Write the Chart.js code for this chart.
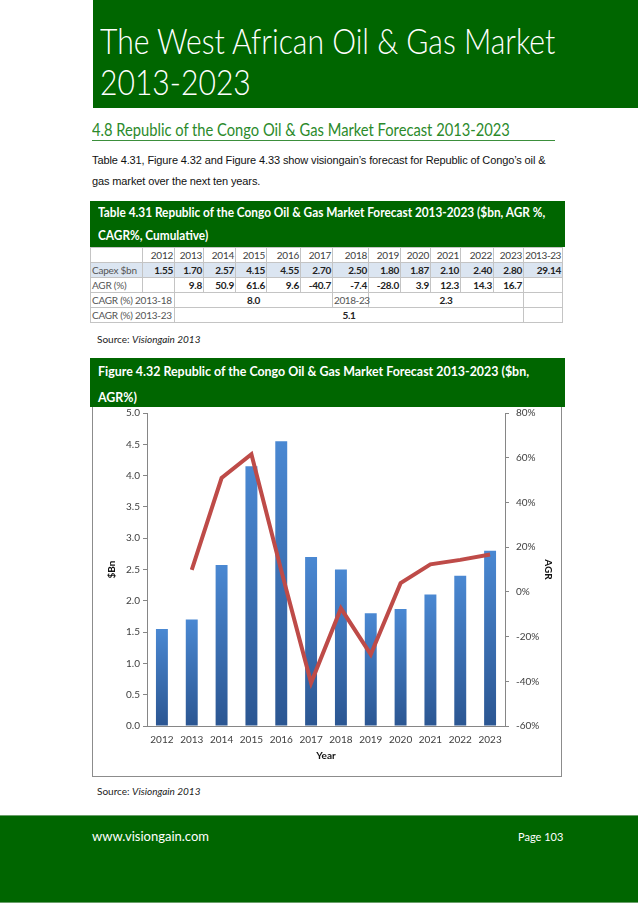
<!DOCTYPE html>
<html>
<head>
<meta charset="UTF-8">
<title>Republic of the Congo Oil &amp; Gas Market Forecast 2013-2023</title>
<script src="https://cdn.jsdelivr.net/npm/chart.js"></script>
<style>
    body {
        margin: 0;
        width: 638px;
        height: 903px;
        position: relative;
        overflow: hidden;
        background: #fff;
        font-family: Lato, "Open Sans", sans-serif;
    }
    .sx { display: inline-block; transform-origin: 0 50%; white-space: nowrap; }
    #header {
        position: absolute; left: 93px; top: 0; width: 545px; height: 108px;
        background: #006600;
    }
    #header div {
        position: absolute; left: 7px; color: #fff; font-size: 35px; font-weight: 300;
        line-height: 40px; white-space: nowrap;
    }
    #header .sx { transform: scaleX(0.86); }
    #section {
        position: absolute; left: 92px; top: 119px; width: 463px; height: 21px;
        color: #2b8a2b; font-size: 17px; line-height: 22px;
        border-bottom: 1px solid #3b8f3b; white-space: nowrap;
    }
    #section .sx { transform: scaleX(0.865); }
    #intro {
        position: absolute; left: 92px; top: 150px; width: 480px;
        font-family: "Liberation Sans", Arial, sans-serif; font-size: 11px;
        line-height: 21px; color: #111; letter-spacing: -0.12px;
    }
    .greenbox {
        position: absolute; left: 90px; width: 475px; background: #006600;
        color: #fff; font-weight: bold; font-size: 13px;
    }
    .greenbox div { padding-left: 8px; white-space: nowrap; }
    #tbl {
        position: absolute; left: 90px; top: 247px; width: 472px;
        border-collapse: collapse; table-layout: fixed;
        font-size: 10px; color: #404040; letter-spacing: -0.25px;
    }
    #tbl tr { height: 15px; }
    #tbl td {
        border: 1px solid #c4c4c4; padding: 0 1px; line-height: 13px;
        text-align: right; white-space: nowrap; overflow: hidden;
    }
    #tbl td.lab { text-align: left; color: #555; }
    #tbl td.vis { overflow: visible; letter-spacing: -0.4px; }
    #tbl td.b { font-weight: bold; color: #222; }
    #tbl td.c { text-align: center; }
    #tbl tr.capex td { background: #dbe5f1; }
    .source {
        position: absolute; left: 97px; font-size: 10px; color: #222;
    }
    .source i { font-style: italic; }
    #frame {
        position: absolute; left: 92px; top: 407px; width: 468px; height: 369px;
        border: 1px solid #8c8c8c; border-top: none;
    }
    #chartBox { position: absolute; left: 93px; top: 408px; width: 467px; height: 368px; }
    #footer {
        position: absolute; left: 0; top: 815px; width: 638px; height: 86px;
        background: #006600; border-top: 1px solid #6a9f6a; border-bottom: 1px solid #6a9f6a;
        color: #fff;
    }
    #footer .url { position: absolute; left: 92px; top: 12px; font-size: 13px; }
    #footer .page { position: absolute; left: 518px; top: 14px; font-size: 11px; }
</style>
</head>
<body>
    <div id="header">
        <div style="top: 20px;"><span class="sx">The West African Oil &amp; Gas Market</span></div>
        <div style="top: 61px;"><span class="sx">2013-2023</span></div>
    </div>
    <div id="section"><span class="sx">4.8 Republic of the Congo Oil &amp; Gas Market Forecast 2013-2023</span></div>
    <div id="intro">Table 4.31, Figure 4.32 and Figure 4.33 show visiongain’s forecast for Republic of Congo’s oil &amp;<br>gas market over the next ten years.</div>

    <div class="greenbox" style="top: 201px; height: 46px; line-height: 23px;">
        <div><span class="sx" style="transform: scaleX(0.91)">Table 4.31 Republic of the Congo Oil &amp; Gas Market Forecast 2013-2023 ($bn, AGR %,</span></div>
        <div><span class="sx" style="transform: scaleX(0.91)">CAGR%, Cumulative)</span></div>
    </div>
    <table id="tbl">
        <colgroup>
            <col style="width:52px"><col style="width:32px"><col style="width:29px"><col style="width:32px">
            <col style="width:31px"><col style="width:34px"><col style="width:32px"><col style="width:36px">
            <col style="width:32px"><col style="width:30px"><col style="width:30px"><col style="width:33px">
            <col style="width:30px"><col style="width:39px">
        </colgroup>
        <tbody id="tbody"></tbody>
    </table>
    <div class="source" style="top: 333px;">Source: <i>Visiongain 2013</i></div>

    <div class="greenbox" style="top: 358px; height: 49px; line-height: 26px;">
        <div><span class="sx" style="transform: scaleX(0.955)">Figure 4.32 Republic of the Congo Oil &amp; Gas Market Forecast 2013-2023 ($bn,</span></div>
        <div><span class="sx" style="transform: scaleX(0.955)">AGR%)</span></div>
    </div>
    <div id="frame"></div>
    <div id="chartBox"><canvas id="congoChart" width="467" height="368"></canvas></div>
    <div class="source" style="top: 785px;">Source: <i>Visiongain 2013</i></div>

    <div id="footer">
        <div class="url">www.visiongain.com</div>
        <div class="page">Page 103</div>
    </div>

<script>
    // data
    const years = ['2012', '2013', '2014', '2015', '2016', '2017', '2018', '2019', '2020', '2021', '2022', '2023'];
    const capex = [1.55, 1.70, 2.57, 4.15, 4.55, 2.70, 2.50, 1.80, 1.87, 2.10, 2.40, 2.80];
    const agr = [null, 9.8, 50.9, 61.6, 9.6, -40.7, -7.4, -28.0, 3.9, 12.3, 14.3, 16.7];
    const cumulativeLabel = '2013-23';
    const cumulative = 29.14;
    const cagr1318 = 8.0;
    const cagr1823 = 2.3;
    const cagr1323 = 5.1;

    // table
    const tbody = document.getElementById('tbody');
    function row(cls, cells) {
        const tr = document.createElement('tr');
        if (cls) tr.className = cls;
        cells.forEach(c => {
            const td = document.createElement('td');
            td.textContent = c.t;
            if (c.cls) td.className = c.cls;
            if (c.span) td.colSpan = c.span;
            tr.appendChild(td);
        });
        tbody.appendChild(tr);
    }
    row('', [{t: ''}].concat(years.map(y => ({t: y}))).concat([{t: cumulativeLabel, cls: 'vis'}]));
    row('capex', [{t: 'Capex $bn', cls: 'lab'}].concat(capex.map(v => ({t: v.toFixed(2), cls: 'b'}))).concat([{t: cumulative.toFixed(2), cls: 'b'}]));
    row('', [{t: 'AGR (%)', cls: 'lab'}].concat(agr.map(v => ({t: v == null ? '' : v.toFixed(1), cls: 'b'}))).concat([{t: ''}]));
    row('', [
        {t: 'CAGR (%) 2013-18', cls: 'lab', span: 2},
        {t: cagr1318.toFixed(1), cls: 'b c', span: 5},
        {t: '2018-23', cls: 'lab vis'},
        {t: cagr1823.toFixed(1), cls: 'b c', span: 5},
        {t: ''}
    ]);
    row('', [
        {t: 'CAGR (%) 2013-23', cls: 'lab', span: 2},
        {t: cagr1323.toFixed(1), cls: 'b c', span: 11},
        {t: ''}
    ]);

    // chart
    const axisGrey = '#868686';
    const tickFont = {family: 'Lato', size: 10};
    const titleFont = {family: 'Lato', size: 10, weight: 'bold'};

    function barFill(c) {
        const chart = c.chart;
        const y = chart.scales.y;
        if (!y || c.raw == null) return '#3a70b8';
        const top = y.getPixelForValue(c.raw);
        const bot = y.getPixelForValue(0);
        if (!isFinite(top) || !isFinite(bot)) return '#3a70b8';
        const g = chart.ctx.createLinearGradient(0, top, 0, bot);
        g.addColorStop(0, '#4a88d2');
        g.addColorStop(1, '#2b5692');
        return g;
    }

    new Chart(document.getElementById('congoChart'), {
        data: {
            labels: years,
            datasets: [{
                type: 'line',
                label: 'AGR',
                data: agr,
                yAxisID: 'y1',
                borderColor: '#be4b48',
                borderWidth: 4,
                pointRadius: 0,
                tension: 0,
                order: 0
            }, {
                type: 'bar',
                label: 'Capex $bn',
                data: capex,
                yAxisID: 'y',
                backgroundColor: barFill,
                barPercentage: 0.4,
                categoryPercentage: 1.0,
                order: 1
            }]
        },
        options: {
            responsive: false,
            animation: false,
            layout: {padding: {top: 5, left: 0, right: 0, bottom: 0}},
            plugins: {legend: {display: false}, tooltip: {enabled: false}},
            scales: {
                x: {
                    grid: {display: false, drawTicks: false},
                    border: {display: true, color: axisGrey},
                    ticks: {font: tickFont, color: '#404040', padding: 8, maxRotation: 0, autoSkip: false},
                    title: {display: true, text: 'Year', font: titleFont, color: '#111', padding: {top: 0, bottom: 14}},
                    afterFit: s => { s.height = 50; s.paddingLeft = 0; s.paddingRight = 0; }
                },
                y: {
                    position: 'left',
                    min: 0, max: 5,
                    ticks: {stepSize: 0.5, font: tickFont, color: '#404040', padding: 3, callback: v => v.toFixed(1)},
                    grid: {drawOnChartArea: false, drawTicks: true, tickLength: 4, color: axisGrey},
                    border: {color: axisGrey},
                    title: {display: true, text: '$Bn', font: titleFont, color: '#111', padding: {top: 13, bottom: 0}},
                    afterFit: s => { s.width = 54; s.paddingTop = 0; s.paddingBottom = 0; }
                },
                y1: {
                    position: 'right',
                    min: -60, max: 80,
                    ticks: {stepSize: 20, font: tickFont, color: '#404040', padding: 7, callback: v => v + '%'},
                    grid: {drawOnChartArea: false, drawTicks: true, tickLength: 4, color: axisGrey},
                    border: {color: axisGrey},
                    title: {display: true, text: 'AGR', font: titleFont, color: '#111', padding: {top: 6, bottom: 0}},
                    afterFit: s => { s.width = 55; s.paddingTop = 0; s.paddingBottom = 0; }
                }
            }
        }
    });
</script>
</body>
</html>
